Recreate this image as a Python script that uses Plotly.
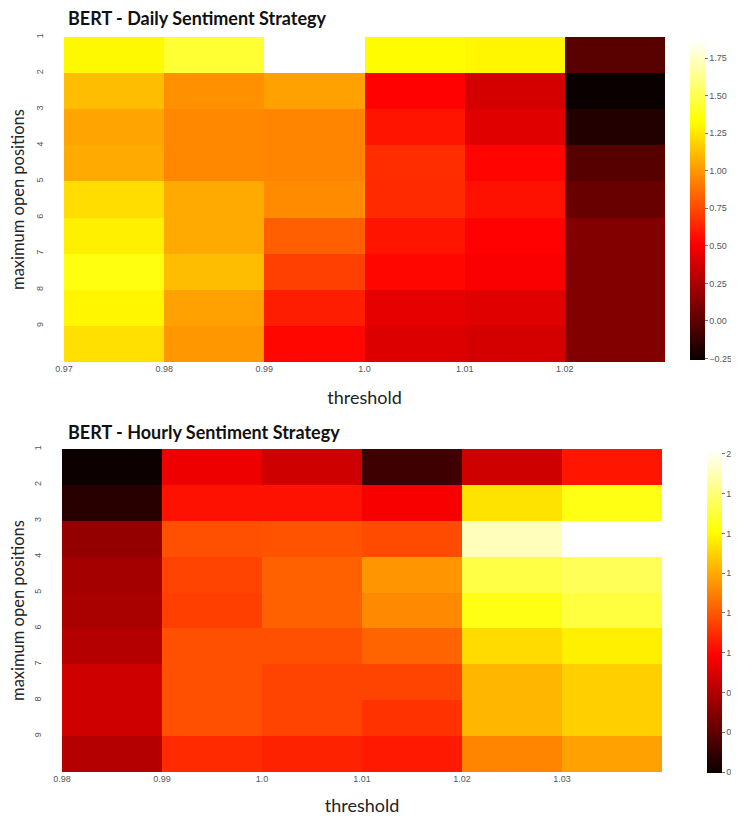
import plotly.graph_objects as go

positions = ["1", "2", "3", "4", "5", "6", "7", "8", "9"]
daily_thresholds = ["0.97", "0.98", "0.99", "1.0", "1.01", "1.02"]
hourly_thresholds = ["0.98", "0.99", "1.0", "1.01", "1.02", "1.03"]

daily_values = [
    [1.31, 1.44, 1.87, 1.32, 1.30, -0.01],
    [1.12, 0.98, 1.03, 0.52, 0.38, -0.26],
    [1.04, 0.95, 0.94, 0.58, 0.42, -0.18],
    [1.06, 0.95, 0.94, 0.66, 0.53, -0.02],
    [1.22, 1.06, 0.96, 0.65, 0.57, 0.04],
    [1.28, 1.06, 0.82, 0.58, 0.52, 0.12],
    [1.36, 1.12, 0.72, 0.54, 0.50, 0.12],
    [1.30, 1.03, 0.61, 0.44, 0.42, 0.12],
    [1.23, 1.00, 0.54, 0.41, 0.38, 0.12],
]

hourly_values = [
    [0.40, 0.95, 0.87, 0.52, 0.87, 1.04],
    [0.47, 1.03, 1.03, 0.97, 1.54, 1.64],
    [0.73, 1.18, 1.19, 1.17, 1.91, 2.02],
    [0.77, 1.15, 1.22, 1.35, 1.72, 1.75],
    [0.78, 1.14, 1.22, 1.32, 1.64, 1.71],
    [0.81, 1.18, 1.18, 1.23, 1.52, 1.57],
    [0.87, 1.18, 1.15, 1.15, 1.43, 1.49],
    [0.87, 1.18, 1.15, 1.11, 1.43, 1.49],
    [0.81, 1.09, 1.07, 1.05, 1.31, 1.38],
]

daily_cbar_ticks = [-0.25, 0.0, 0.25, 0.5, 0.75, 1.0, 1.25, 1.5, 1.75]
hourly_cbar_ticks = [0.4, 0.6, 0.8, 1.0, 1.2, 1.4, 1.6, 1.8, 2.0]

hot = [[0.0, "rgb(10,0,0)"], [0.365, "rgb(255,0,0)"],
       [0.746, "rgb(255,255,0)"], [1.0, "rgb(255,255,255)"]]

# page body has an 8px margin: figure is placed at (8, 8) in the window
OFF = 8
W, H = 739 - OFF, 822 - OFF


def px(x):
    return (x - OFF) / W


def py(y):
    return 1 - (y - OFF) / H


tickfont = dict(family="Liberation Sans", size=9, color="#555555")
centers_x = [i + 0.5 for i in range(6)]
centers_y = [i + 0.5 for i in range(9)]

fig = go.Figure()

fig.add_trace(go.Heatmap(
    z=daily_values, x=centers_x, y=centers_y, xaxis="x", yaxis="y",
    colorscale=hot, zmin=-0.26, zmax=1.87,
    colorbar=dict(x=px(690), xanchor="left", y=py(40), yanchor="top",
                  len=320 / H, lenmode="fraction", thickness=15,
                  outlinewidth=0, ticks="outside", ticklen=3,
                  tickcolor="#777", tickvals=daily_cbar_ticks,
                  tickformat=".2f", tickfont=tickfont, xpad=0, ypad=0),
))

fig.add_trace(go.Heatmap(
    z=hourly_values, x=centers_x, y=centers_y, xaxis="x2", yaxis="y2",
    colorscale=hot, zmin=0.395, zmax=2.02,
    colorbar=dict(x=px(707), xanchor="left", y=py(450), yanchor="top",
                  len=323 / H, lenmode="fraction", thickness=15,
                  outlinewidth=0, ticks="outside", ticklen=3,
                  tickcolor="#777", tickvals=hourly_cbar_ticks,
                  tickformat=".1f", tickfont=tickfont, xpad=0, ypad=0),
))

xcommon = dict(showgrid=False, zeroline=False, showline=False, ticks="",
               tickfont=tickfont, range=[0, 6], tickmode="array",
               tickvals=list(range(6)), fixedrange=True, automargin=False,
               title_font=dict(family="Lato", size=18, color="#222"))
ycommon = dict(showgrid=False, zeroline=False, showline=False, ticks="",
               tickfont=tickfont, range=[9, 0], tickmode="array",
               tickvals=list(range(9)), ticktext=positions, tickangle=-90,
               ticklabelstandoff=18,
               title_font=dict(family="Lato", size=16.5, color="#222"),
               fixedrange=True, automargin=False)

fig.update_layout(
    width=W, height=H,
    margin=dict(l=0, r=0, t=0, b=0, autoexpand=False),
    paper_bgcolor="white", plot_bgcolor="white",
    showlegend=False,
    xaxis=dict(xcommon, domain=[px(64), px(665)], anchor="y",
               ticktext=daily_thresholds,
               title=dict(text="threshold", standoff=18)),
    yaxis=dict(ycommon, domain=[py(362), py(37)], anchor="x",
               title=dict(text="maximum open positions", standoff=9)),
    xaxis2=dict(xcommon, domain=[px(62), px(662)], anchor="y2",
                ticktext=hourly_thresholds,
                title=dict(text="threshold", standoff=16)),
    yaxis2=dict(ycommon, domain=[py(772), py(449)], anchor="x2",
                title=dict(text="maximum open positions", standoff=9)),
    annotations=[
        dict(text="<b>BERT - Daily Sentiment Strategy</b>", x=px(66), y=py(18),
             xref="paper", yref="paper", xanchor="left", yanchor="middle",
             showarrow=False, font=dict(family="Lato", size=18, color="#111")),
        dict(text="<b>BERT - Hourly Sentiment Strategy</b>", x=px(66), y=py(432),
             xref="paper", yref="paper", xanchor="left", yanchor="middle",
             showarrow=False, font=dict(family="Lato", size=18, color="#111")),
    ],
)

fig.write_html("out.html")
